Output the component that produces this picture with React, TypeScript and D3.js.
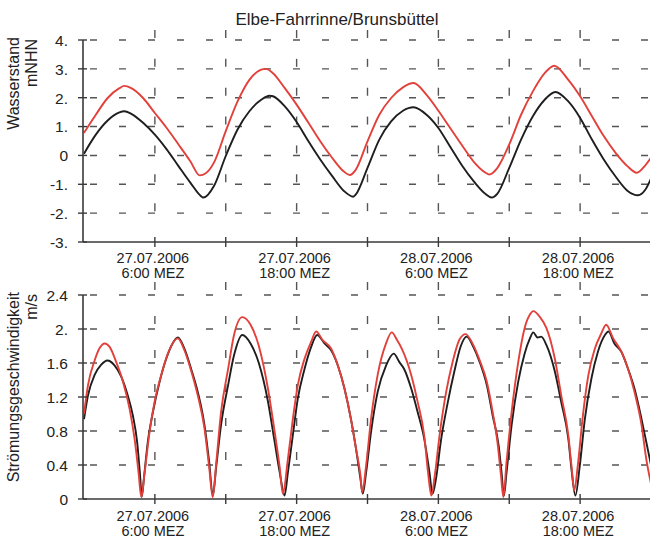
import React, { useEffect, useRef } from 'react';
import * as d3 from 'd3';

// hours since 27.07.2006 0:00 MEZ, value
const levelBlack: [number, number][] = [
  [0, 0.06], [1, 0.72], [2, 1.21], [3, 1.49], [3.4, 1.53], [4, 1.44], [5, 1.13], [6, 0.72], [7, 0.21],
  [8, -0.37], [9, -0.94], [10, -1.44], [10.1, -1.46], [11, -1.06], [12, -0.02], [13, 0.9], [14, 1.53],
  [15, 1.93], [15.7, 2.07], [16, 2.05], [17, 1.7], [18, 1.16], [19, 0.49], [20, -0.14], [21, -0.71],
  [22, -1.23], [22.8, -1.43], [23, -1.36], [24, -0.43], [25, 0.55], [26, 1.18], [27, 1.55], [27.9, 1.67],
  [29, 1.41], [30, 0.95], [31, 0.3], [32, -0.35], [33, -0.9], [34, -1.34], [34.5, -1.46], [35, -1.32],
  [36, -0.43], [37, 0.55], [38, 1.36], [39, 1.93], [39.9, 2.2], [41, 1.87], [42, 1.3], [43, 0.55],
  [44, -0.14], [45, -0.73], [46, -1.22], [46.9, -1.38], [47.5, -1.2], [48, -0.8],
];

const levelRed: [number, number][] = [
  [0, 0.78], [1, 1.41], [2, 1.99], [3, 2.33], [3.4, 2.41], [4, 2.33], [5, 1.99], [6, 1.47], [7, 0.95],
  [8, 0.38], [9, -0.2], [9.8, -0.69], [10.3, -0.62], [11, -0.25], [12, 0.84], [13, 1.87], [14, 2.62],
  [15, 2.97], [15.4, 3.0], [16, 2.85], [17, 2.33], [18, 1.76], [19, 1.13], [20, 0.49], [21, -0.08],
  [22, -0.56], [22.5, -0.68], [23, -0.5], [24, 0.49], [25, 1.41], [26, 1.99], [27, 2.36], [27.9, 2.51],
  [29, 2.1], [30, 1.55], [31, 0.95], [32, 0.35], [33, -0.22], [34, -0.6], [34.3, -0.66], [35, -0.43],
  [36, 0.38], [37, 1.41], [38, 2.22], [39, 2.85], [39.8, 3.11], [41, 2.62], [42, 2.05], [43, 1.36],
  [44, 0.67], [45, 0.09], [46, -0.37], [46.8, -0.6], [47.5, -0.35], [48, -0.08],
];

const speedBlack: [number, number][] = [
  [0, 0.94], [0.34, 1.22], [0.9, 1.46], [1.46, 1.58], [1.97, 1.63], [2.6, 1.57], [3.15, 1.44], [3.7, 1.22],
  [4.14, 0.98], [4.5, 0.67], [4.73, 0.31], [4.9, 0.03], [5.07, 0.24], [5.4, 0.67], [5.83, 1.02], [6.4, 1.38],
  [6.96, 1.65], [7.5, 1.83], [7.94, 1.9], [8.5, 1.77], [9.07, 1.53], [9.63, 1.26], [10.2, 0.87], [10.6, 0.43],
  [10.9, 0.04], [11.2, 0.39], [11.6, 0.87], [12.2, 1.34], [12.7, 1.69], [13.4, 1.93], [14.1, 1.83],
  [14.8, 1.6], [15.57, 1.15], [16.13, 0.68], [16.56, 0.32], [16.98, 0.04], [17.26, 0.31], [17.68, 0.75],
  [18.1, 1.18], [18.67, 1.53], [19.23, 1.79], [19.74, 1.93], [20.36, 1.83], [20.92, 1.75], [21.49, 1.57],
  [22.05, 1.3], [22.6, 0.94], [23.03, 0.59], [23.4, 0.24], [23.6, 0.06], [23.88, 0.31], [24.3, 0.79],
  [24.86, 1.26], [25.57, 1.57], [26.22, 1.71], [26.7, 1.61], [27.1, 1.53], [27.7, 1.3], [28.25, 1.02],
  [28.8, 0.71], [29.25, 0.31], [29.5, 0.06], [29.8, 0.24], [30.2, 0.67], [30.8, 1.14], [31.35, 1.5],
  [31.9, 1.8], [32.4, 1.91], [32.96, 1.79], [33.5, 1.61], [34.1, 1.34], [34.6, 0.98], [35.1, 0.63],
  [35.35, 0.31], [35.55, 0.04], [35.77, 0.31], [36.2, 0.87], [36.76, 1.38], [37.3, 1.71], [37.75, 1.89],
  [38.03, 1.96], [38.4, 1.9], [38.7, 1.91], [39.15, 1.81], [39.86, 1.5], [40.4, 1.14], [41, 0.71],
  [41.3, 0.31], [41.6, 0.04], [41.97, 0.39], [42.4, 0.94], [42.96, 1.42], [43.5, 1.73], [44.1, 1.93],
  [44.4, 1.97], [44.9, 1.83], [45.5, 1.73], [46.06, 1.53], [46.6, 1.3], [47.2, 0.94], [47.6, 0.67], [48, 0.4],
];

const speedRed: [number, number][] = [
  [0, 1.0], [0.34, 1.34], [0.9, 1.63], [1.3, 1.77], [1.75, 1.83], [2.17, 1.79], [2.73, 1.61], [3.3, 1.38],
  [3.86, 1.06], [4.28, 0.71], [4.62, 0.31], [4.85, 0.02], [5.13, 0.31], [5.55, 0.79], [5.97, 1.14],
  [6.54, 1.46], [7.1, 1.71], [7.94, 1.89], [8.5, 1.75], [9.07, 1.51], [9.63, 1.22], [10.2, 0.83],
  [10.6, 0.37], [10.9, 0.02], [11.2, 0.43], [11.6, 1.02], [12.2, 1.53], [12.7, 1.93], [13.4, 2.14],
  [14.1, 2.05], [14.8, 1.8], [15.57, 1.3], [16.13, 0.8], [16.56, 0.38], [16.84, 0.06], [17.26, 0.47],
  [17.68, 0.94], [18.1, 1.34], [18.67, 1.65], [19.23, 1.85], [19.65, 1.97], [20.2, 1.87], [20.92, 1.77],
  [21.49, 1.57], [22.05, 1.3], [22.6, 0.94], [23.03, 0.59], [23.4, 0.28], [23.55, 0.08], [23.88, 0.39],
  [24.3, 0.94], [24.86, 1.46], [25.57, 1.83], [26.05, 1.96], [26.5, 1.87], [26.9, 1.77], [27.7, 1.46],
  [28.25, 1.14], [28.8, 0.75], [29.15, 0.28], [29.4, 0.04], [29.7, 0.28], [30.1, 0.75], [30.66, 1.26],
  [31.2, 1.61], [31.8, 1.88], [32.3, 1.94], [32.96, 1.81], [33.5, 1.63], [34.1, 1.38], [34.6, 1.02],
  [35.0, 0.67], [35.3, 0.28], [35.5, 0.02], [35.77, 0.43], [36.2, 1.02], [36.76, 1.61], [37.3, 2.01],
  [37.75, 2.17], [38.03, 2.21], [38.6, 2.14], [39.15, 2.01], [39.86, 1.65], [40.4, 1.22], [41, 0.75],
  [41.27, 0.39], [41.5, 0.1], [41.8, 0.39], [42.2, 0.94], [42.7, 1.46], [43.25, 1.77], [43.8, 1.95],
  [44.2, 2.05], [44.8, 1.89], [45.5, 1.73], [46.06, 1.53], [46.6, 1.26], [47.2, 0.87], [47.6, 0.47], [48, 0.18],
];

const hourTicks = [0, 6, 12, 18, 24, 30, 36, 42, 48];
const labelHours = [6, 18, 30, 42];
const dateLabels = ['27.07.2006', '27.07.2006', '28.07.2006', '28.07.2006'];
const timeLabels = ['6:00 MEZ', '18:00 MEZ', '6:00 MEZ', '18:00 MEZ'];

const levelTicks = [-3, -2, -1, 0, 1, 2, 3, 4];
const levelTickLabels = ['-3.', '-2.', '-1.', '0', '1.', '2.', '3.', '4.'];
const speedTicks = [0, 0.4, 0.8, 1.2, 1.6, 2, 2.4];
const speedTickLabels = ['0', '0.4', '0.8', '1.2', '1.6', '2.', '2.4'];

const W = 650;
const H = 541;
const FONT = 'Arial, "Liberation Sans", Helvetica, sans-serif';
const AXIS = '#3a3a3a';
const GRID = '#555';
const RED = '#e2413b';
const BLACK = '#1e1e1e';

function App() {
  const ref = useRef<SVGSVGElement>(null);

  useEffect(() => {
    const svg = d3.select(ref.current);
    svg.selectAll('*').remove();

    const x = d3.scaleLinear().domain([0, 48]).range([84, 651]);
    const left = 83;

    const panel = (
      y: d3.ScaleLinear<number, number>,
      ticks: number[],
      tickLabels: string[],
      series: [number, number][][],
      titleLines: string[],
      titleEnd: number,
      dateY: number,
      vDash: [number, number],
    ) => {
      const g = svg.append('g');
      const bottom = y(ticks[0]);
      const top = y(ticks[ticks.length - 1]);

      // horizontal dashed grid
      g.selectAll('line.hgrid')
        .data(ticks.slice(1))
        .join('line')
        .attr('x1', left + 7)
        .attr('x2', W)
        .attr('y1', (d) => y(d))
        .attr('y2', (d) => y(d))
        .attr('stroke', GRID)
        .attr('stroke-width', 1.4)
        .attr('stroke-dasharray', '7 22');

      // vertical dashed grid: short dashes just above each grid level
      const segs: [number, number][] = [];
      hourTicks.slice(1).forEach((h) => ticks.slice(1).forEach((v) => segs.push([h, v])));
      g.selectAll('line.vgrid')
        .data(segs)
        .join('line')
        .attr('x1', (d) => x(d[0]))
        .attr('x2', (d) => x(d[0]))
        .attr('y1', (d) => y(d[1]) - vDash[0])
        .attr('y2', (d) => y(d[1]) - vDash[1])
        .attr('stroke', GRID)
        .attr('stroke-width', 1.4);

      // curves
      const line = d3
        .line<[number, number]>()
        .x((d) => x(d[0]))
        .y((d) => y(d[1]))
        .curve(d3.curveMonotoneX);
      [BLACK, RED].forEach((c, i) => {
        g.append('path')
          .datum(series[i])
          .attr('fill', 'none')
          .attr('stroke', c)
          .attr('stroke-width', 1.9)
          .attr('stroke-linejoin', 'round')
          .attr('d', line);
      });

      // axes
      g.append('line')
        .attr('x1', left).attr('x2', left)
        .attr('y1', top).attr('y2', bottom)
        .attr('stroke', AXIS).attr('stroke-width', 1.6);
      g.append('line')
        .attr('x1', left).attr('x2', W)
        .attr('y1', bottom).attr('y2', bottom)
        .attr('stroke', AXIS).attr('stroke-width', 1.6);

      g.selectAll('line.ytick')
        .data(ticks)
        .join('line')
        .attr('x1', left - 5)
        .attr('x2', left + 4)
        .attr('y1', (d) => y(d))
        .attr('y2', (d) => y(d))
        .attr('stroke', AXIS)
        .attr('stroke-width', 1.4);
      g.selectAll('text.ytick')
        .data(ticks)
        .join('text')
        .attr('x', 68)
        .attr('y', (d) => y(d))
        .attr('dy', '0.38em')
        .attr('text-anchor', 'end')
        .attr('font-family', FONT)
        .attr('font-size', 15.5)
        .attr('fill', '#222')
        .text((d, i) => tickLabels[i]);

      g.selectAll('line.xtick')
        .data(hourTicks.slice(1))
        .join('line')
        .attr('x1', (d) => x(d))
        .attr('x2', (d) => x(d))
        .attr('y1', bottom - 5)
        .attr('y2', bottom + 5)
        .attr('stroke', AXIS)
        .attr('stroke-width', 1.4);

      const lab = g.selectAll('g.xlab').data(labelHours).join('g');
      lab.append('text')
        .attr('x', (d) => x(d) - 2)
        .attr('y', dateY)
        .attr('text-anchor', 'middle')
        .attr('font-family', FONT)
        .attr('font-size', 14.5)
        .attr('fill', '#222')
        .text((d, i) => dateLabels[i]);
      lab.append('text')
        .attr('x', (d) => x(d) - 2)
        .attr('y', dateY + 15)
        .attr('text-anchor', 'middle')
        .attr('font-family', FONT)
        .attr('font-size', 14.5)
        .attr('fill', '#222')
        .text((d, i) => timeLabels[i]);

      // y titles
      [19, 37].forEach((bx, i) => {
        g.append('text')
          .attr('transform', `translate(${bx},${titleEnd + (i === 1 ? 2 : 0)}) rotate(-90)`)
          .attr('text-anchor', 'end')
          .attr('font-family', FONT)
          .attr('font-size', 16)
          .attr('fill', '#222')
          .text(titleLines[i]);
      });
    };

    const yLevel = d3.scaleLinear().domain([-3, 4]).range([242, 40]);
    const ySpeed = d3.scaleLinear().domain([0, 2.4]).range([499, 295]);

    panel(yLevel, levelTicks, levelTickLabels, [levelBlack, levelRed], ['Wasserstand', 'mNHN'], 37, 263, [10, 2]);
    panel(ySpeed, speedTicks, speedTickLabels, [speedBlack, speedRed], ['Strömungsgeschwindigkeit', 'm/s'], 292, 521, [13, 5]);

    svg.append('text')
      .attr('x', 337)
      .attr('y', 25)
      .attr('text-anchor', 'middle')
      .attr('font-family', FONT)
      .attr('font-size', 17)
      .attr('fill', '#222')
      .text('Elbe-Fahrrinne/Brunsbüttel');
  }, []);

  return (
    <svg
      ref={ref}
      width={W}
      height={H}
      style={{ position: 'absolute', left: 0, top: 0, background: '#fff' }}
    />
  );
}

export default App;
